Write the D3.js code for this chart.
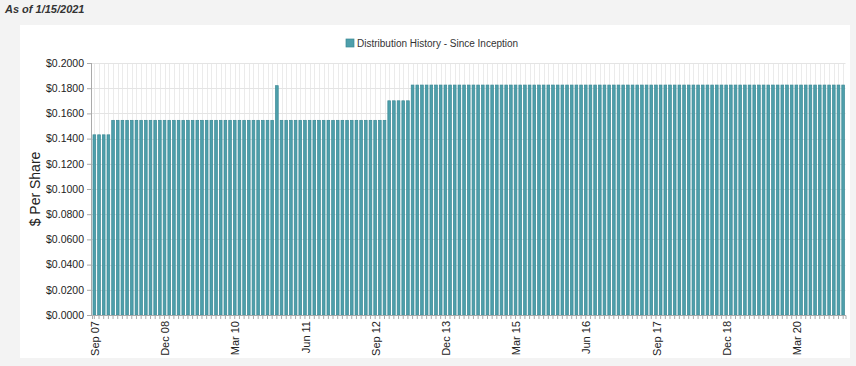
<!DOCTYPE html>
<html><head><meta charset="utf-8">
<script src="https://cdn.jsdelivr.net/npm/d3@7"></script>
<style>
body{margin:0;background:#f3f3f3;font-family:Arial,"Liberation Sans",sans-serif;}
svg{display:block;}
</style></head><body>
<svg id="c" width="856" height="366"></svg>
<script>
const title = "As of 1/15/2021";
const seriesName = "Distribution History - Since Inception";
const firstMonth = "2007-09";
const lastMonth = "2021-01";
const values = [
0.143,0.143,0.143,0.143,
0.1545,0.1545,0.1545,0.1545,0.1545,0.1545,0.1545,0.1545,0.1545,0.1545,
0.1545,0.1545,0.1545,0.1545,0.1545,0.1545,0.1545,0.1545,0.1545,0.1545,
0.1545,0.1545,0.1545,0.1545,0.1545,0.1545,0.1545,0.1545,0.1545,0.1545,
0.1545,0.1545,0.1545,0.1545,0.1545,
0.182,
0.1545,0.1545,0.1545,0.1545,0.1545,0.1545,0.1545,0.1545,0.1545,0.1545,
0.1545,0.1545,0.1545,0.1545,0.1545,0.1545,0.1545,0.1545,0.1545,0.1545,
0.1545,0.1545,0.1545,
0.17,0.17,0.17,0.17,0.17,
0.1825,0.1825,0.1825,0.1825,0.1825,0.1825,0.1825,0.1825,0.1825,0.1825,
0.1825,0.1825,0.1825,0.1825,0.1825,0.1825,0.1825,0.1825,0.1825,0.1825,
0.1825,0.1825,0.1825,0.1825,0.1825,0.1825,0.1825,0.1825,0.1825,0.1825,
0.1825,0.1825,0.1825,0.1825,0.1825,0.1825,0.1825,0.1825,0.1825,0.1825,
0.1825,0.1825,0.1825,0.1825,0.1825,0.1825,0.1825,0.1825,0.1825,0.1825,
0.1825,0.1825,0.1825,0.1825,0.1825,0.1825,0.1825,0.1825,0.1825,0.1825,
0.1825,0.1825,0.1825,0.1825,0.1825,0.1825,0.1825,0.1825,0.1825,0.1825,
0.1825,0.1825,0.1825,0.1825,0.1825,0.1825,0.1825,0.1825,0.1825,0.1825,
0.1825,0.1825,0.1825,0.1825,0.1825,0.1825,0.1825,0.1825,0.1825,0.1825,
0.1825,0.1825,0.1825
];
const xTickLabels = ["Sep 07","Dec 08","Mar 10","Jun 11","Sep 12","Dec 13","Mar 15","Jun 16","Sep 17","Dec 18","Mar 20"];
const yTicks = [0,0.02,0.04,0.06,0.08,0.1,0.12,0.14,0.16,0.18,0.2];
const yTitle = "$ Per Share";

const parse = d3.timeParse("%Y-%m");
const fmt = d3.timeFormat("%b %y");
const months = d3.timeMonth.range(parse(firstMonth), d3.timeMonth.offset(parse(lastMonth),1)).map(fmt);
const data = months.map((m,i)=>({m, v: values[i]}));

const svg = d3.select("#c");
svg.append("rect").attr("x",0).attr("y",0).attr("width",856).attr("height",366).attr("fill","#f3f3f3");
svg.append("rect").attr("x",20).attr("y",25).attr("width",830).attr("height",333).attr("fill","#ffffff");
svg.append("text").attr("x",5).attr("y",13).attr("font-size",11).attr("font-style","italic").attr("font-weight","bold").attr("fill","#333").text(title);

const L=92, R=845.5, T=63, B=315;
const x = d3.scaleBand().domain(months).range([L,R]).paddingInner(0.42).paddingOuter(0.21);
const y = d3.scaleLinear().domain([0,0.2]).range([B,T]);

// gridlines
const g = svg.append("g");
g.selectAll(".vg").data(months).enter().append("line")
  .attr("x1",d=>Math.round(x(d)+x.bandwidth()/2)+0.5).attr("x2",d=>Math.round(x(d)+x.bandwidth()/2)+0.5)
  .attr("y1",T).attr("y2",B).attr("stroke","#ebebeb").attr("stroke-width",1);
g.selectAll(".hg").data(yTicks).enter().append("line")
  .attr("x1",L).attr("x2",R).attr("y1",d=>Math.round(y(d))+0.5).attr("y2",d=>Math.round(y(d))+0.5)
  .attr("stroke","#e4e4e4").attr("stroke-width",1);

// bars
svg.append("g").selectAll("rect").data(data).enter().append("rect")
  .attr("x",d=>x(d.m)).attr("width",x.bandwidth())
  .attr("y",d=>y(d.v)).attr("height",d=>B-y(d.v))
  .attr("fill","#4e9fab").attr("stroke","#3a8995").attr("stroke-width",0.7);

// y axis
const ya = svg.append("g").attr("transform",`translate(${L},0)`)
  .call(d3.axisLeft(y).tickValues(yTicks).tickFormat(d=>"$"+d.toFixed(4)).tickSize(5).tickPadding(3));
ya.select(".domain").attr("stroke","#aaa").attr("d",`M-0.5,${T}V${B}`);
ya.selectAll(".tick line").attr("stroke","#aaa");
ya.selectAll("text").attr("font-size",10.5).attr("fill","#222").attr("font-family","Arial, Liberation Sans, sans-serif");

// x axis
const xa = svg.append("g").attr("transform",`translate(0,${B})`)
  .call(d3.axisBottom(x).tickSize(4).tickFormat(d=>xTickLabels.includes(d)?d:""));
xa.select(".domain").attr("stroke","#aaa");
xa.selectAll(".tick line").attr("stroke","#aaa");
xa.selectAll("text").attr("font-size",11).attr("fill","#222").attr("font-family","Arial, Liberation Sans, sans-serif")
  .attr("transform","rotate(-90)").attr("text-anchor","end").attr("dx","-6px").attr("dy","-0.2em").attr("x",0).attr("y",4)
  .style("dominant-baseline","middle");

// y title
svg.append("text").attr("transform",`translate(40,${(T+B)/2}) rotate(-90)`).attr("text-anchor","middle")
  .attr("font-size",14).attr("fill","#222").text(yTitle);

// legend
const lg = svg.append("g").attr("transform","translate(346,39)");
lg.append("rect").attr("x",0).attr("y",0).attr("width",8).attr("height",8).attr("fill","#4e9fab").attr("stroke","#3a8995").attr("stroke-width",0.7);
lg.append("text").attr("x",11).attr("y",8).attr("font-size",10).attr("fill","#333").text(seriesName);
</script>
</body></html>
